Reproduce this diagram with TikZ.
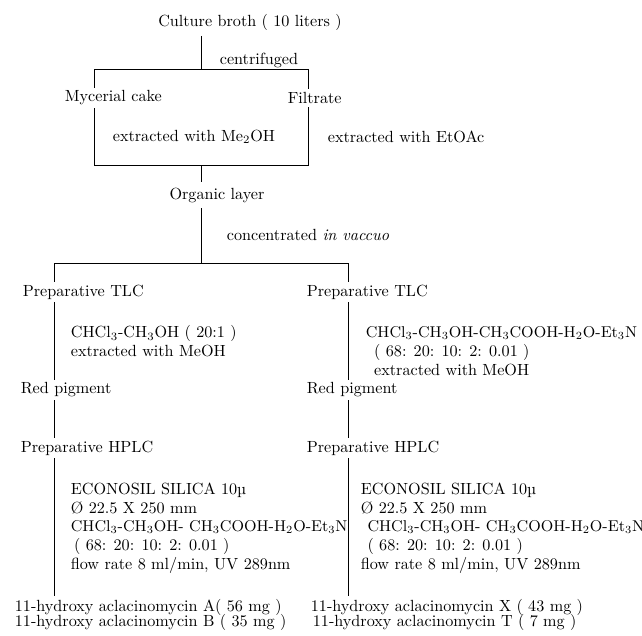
\documentclass[tikz,border=0pt]{standalone}
\usepackage{tikz}
\newcommand{\narrowtxt}{\fontsize{9.4pt}{11.2pt}\selectfont}

\begin{document}
\begin{tikzpicture}[x=0.6pt,y=-0.6pt,font=\fontsize{9.7pt}{11.2pt}\selectfont,
  txt/.style={anchor=west,inner sep=1.5pt,align=left},
  link/.style={line width=0.6pt}]
\useasboundingbox (0,0) rectangle (642,635);
% top part
\node at (250,22) (broth) {Culture broth ( 10 liters )};
\node at (217,60)[txt] (cent) {centrifuged};
\node at (62,98)[txt] (cake) {Mycerial cake};
\node at (285,98)[txt] (filt) {Filtrate};
\node at (110,137)[txt] (exMe) {extracted with Me\textsubscript{2}OH};
\node at (325,137)[txt] (exEt) {extracted with EtOAc};
\node at (217,195) (org) {Organic layer};
\node at (224,235)[txt] (conc) {concentrated \textit{in vaccuo}};
\coordinate (boxTL) at (94,69);
\coordinate (boxTR) at (308,69);
\coordinate (boxBL) at (94,165);
\coordinate (boxBR) at (308,165);
\coordinate (boxT) at (201,69);
\coordinate (boxB) at (201,165);
\coordinate (split) at (201,263);
\coordinate (splitL) at (54,263);
\coordinate (splitR) at (348,263);
% left branch
\node at (20,292)[txt] (tlcL) {Preparative TLC};
\node at (68,341)[txt] (solvL) {CHCl\textsubscript{3}-CH\textsubscript{3}OH ( 20:1 )\\extracted with MeOH};
\node at (18,390)[txt] (redL) {Red pigment};
\node at (18,448)[txt] (hplcL) {Preparative HPLC};
\node at (68,528)[txt] (colL) {ECONOSIL SILICA 10\textmu\\
  \O{} 22.5 X 250 mm\\
  {\narrowtxt CHCl\textsubscript{3}-CH\textsubscript{3}OH- CH\textsubscript{3}COOH-H\textsubscript{2}O-Et\textsubscript{3}N}\\
  \hspace{2pt}( 68: 20: 10: 2: 0.01 )\\
  flow rate 8 ml/min, UV 289nm};
\node at (12,607)[txt] (prodA) {11-hydroxy aclacinomycin A( 56 mg )};
\node at (12,622)[txt] (prodB) {11-hydroxy aclacinomycin B ( 35 mg )};
% right branch
\node at (304,292)[txt] (tlcR) {Preparative TLC};
\node at (363,351)[txt] (solvR) {{\narrowtxt CHCl\textsubscript{3}-CH\textsubscript{3}OH-CH\textsubscript{3}COOH-H\textsubscript{2}O-Et\textsubscript{3}N}\\
  \hspace{5pt}( 68: 20: 10: 2: 0.01 )\\
  \hspace{5pt}extracted with MeOH};
\node at (304,390)[txt] (redR) {Red pigment};
\node at (304,448)[txt] (hplcR) {Preparative HPLC};
\node at (358,528)[txt] (colR) {ECONOSIL SILICA 10\textmu\\
  \O{} 22.5 X 250 mm\\
  \hspace{4pt}{\narrowtxt CHCl\textsubscript{3}-CH\textsubscript{3}OH- CH\textsubscript{3}COOH-H\textsubscript{2}O-Et\textsubscript{3}N}\\
  \hspace{4pt}( 68: 20: 10: 2: 0.01 )\\
  flow rate 8 ml/min, UV 289nm};
\node at (308,607)[txt] (prodX) {11-hydroxy aclacinomycin X ( 43 mg )};
\node at (310,622)[txt] (prodT) {11-hydroxy aclacinomycin T ( 7 mg )};
% connectors
\draw[link] (broth.south -| boxT) -- (boxT);
\draw[link] (cake.north -| boxTL) -- (boxTL) -- (boxTR) -- (filt.north -| boxTR);
\draw[link] (cake.south -| boxBL) -- (boxBL) -- (boxBR) -- (filt.south -| boxBR);
\draw[link] (boxB) -- (org.north -| boxB);
\draw[link] (org.south -| split) -- (split);
\draw[link] (splitL) -- (splitR);
\draw[link] (splitL) -- (tlcL.north -| splitL);
\draw[link] (tlcL.south -| splitL) -- (redL.north -| splitL);
\draw[link] (redL.south -| splitL) -- (hplcL.north -| splitL);
\draw[link] (hplcL.south -| splitL) -- (prodA.north -| splitL);
\draw[link] (splitR) -- (tlcR.north -| splitR);
\draw[link] (tlcR.south -| splitR) -- (redR.north -| splitR);
\draw[link] (redR.south -| splitR) -- (hplcR.north -| splitR);
\draw[link] (hplcR.south -| splitR) -- (prodX.north -| splitR);
\end{tikzpicture}
\end{document}
